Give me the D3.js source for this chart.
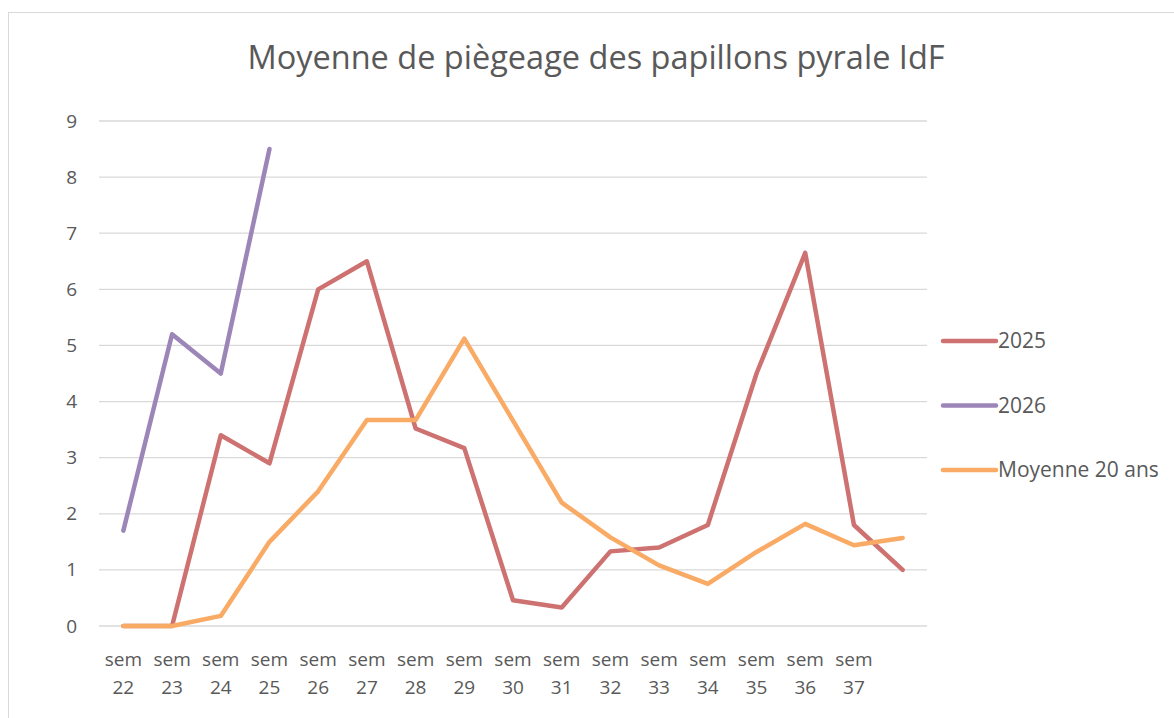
<!DOCTYPE html>
<html>
<head>
<meta charset="utf-8">
<script src="https://cdn.jsdelivr.net/npm/d3@7"></script>
<style>
  body { margin: 0; background: #fff; }
  text { font-family: "Open Sans", sans-serif; fill: #595959; }
</style>
</head>
<body>
<div id="chart"></div>
<script>
// catégories (la 17e n'a pas d'étiquette)
const semaines = ['sem 22','sem 23','sem 24','sem 25','sem 26','sem 27','sem 28','sem 29',
  'sem 30','sem 31','sem 32','sem 33','sem 34','sem 35','sem 36','sem 37',''];

const serie2025 = [0, 0, 3.4, 2.9, 6.0, 6.5, 3.52, 3.17, 0.46, 0.33, 1.33, 1.4, 1.8, 4.5, 6.65, 1.8, 1.0];
const serie2026 = [1.7, 5.2, 4.5, 8.5];
const moyenne20 = [0, 0, 0.18, 1.5, 2.4, 3.67, 3.67, 5.12, 3.66, 2.2, 1.58, 1.08, 0.75, 1.32, 1.82, 1.44, 1.57];

const yTicks = [0, 1, 2, 3, 4, 5, 6, 7, 8, 9];

const series = [
  { name: '2025', values: serie2025, color: '#CD7270' },
  { name: '2026', values: serie2026, color: '#9C86B8' },
  { name: 'Moyenne 20 ans', values: moyenne20, color: '#F9AA65' }
];

const W = 1174, H = 718;
const svg = d3.select('#chart').append('svg')
  .attr('width', W).attr('height', H);

// cadre du graphique
svg.append('rect')
  .attr('x', 8.5).attr('y', 12.5)
  .attr('width', W + 10).attr('height', H + 10)
  .attr('fill', 'none').attr('stroke', '#D9D9D9').attr('stroke-width', 1);

// titre
svg.append('text')
  .attr('x', 596).attr('y', 69)
  .attr('text-anchor', 'middle')
  .style('font-size', '32.5px')
  .text('Moyenne de piègeage des papillons pyrale IdF');

// échelles
const x = d3.scaleBand()
  .domain(d3.range(semaines.length))
  .range([99, 927]);

const y = d3.scaleLinear()
  .domain([0, 9])
  .range([626, 121]);

// grille
svg.append('g')
  .selectAll('line')
  .data(yTicks)
  .join('line')
  .attr('x1', 99).attr('x2', 927)
  .attr('y1', d => y(d)).attr('y2', d => y(d))
  .attr('stroke', '#D9D9D9').attr('stroke-width', 1.3);

// axe Y (étiquettes seulement)
const yAxis = svg.append('g')
  .attr('transform', 'translate(77,0)')
  .call(d3.axisLeft(y).tickValues(yTicks).tickSize(0).tickPadding(0));
yAxis.select('.domain').remove();
yAxis.selectAll('text')
  .style('font-size', '19px')
  .style('font-family', '"Open Sans", sans-serif')
  .attr('fill', '#595959');

// axe X : étiquettes sur deux lignes
const xAxis = svg.append('g')
  .attr('transform', 'translate(0,640)')
  .call(d3.axisBottom(x).tickSize(0).tickFormat(''));
xAxis.select('.domain').remove();
xAxis.selectAll('.tick').each(function(i) {
  const parts = semaines[i].split(' ');
  const t = d3.select(this).append('text')
    .attr('text-anchor', 'middle')
    .style('font-size', '19px')
    .attr('fill', '#595959');
  parts.forEach((p, k) => {
    if (!p) return;
    t.append('tspan').attr('x', 0).attr('y', 26 + k * 28).text(p);
  });
});

// courbes
const line = d3.line()
  .x((d, i) => x(i) + x.bandwidth() / 2)
  .y(d => y(d));

svg.append('g')
  .selectAll('path')
  .data(series)
  .join('path')
  .attr('d', d => line(d.values))
  .attr('fill', 'none')
  .attr('stroke', d => d.color)
  .attr('stroke-width', 4.5)
  .attr('stroke-linejoin', 'round')
  .attr('stroke-linecap', 'round');

// légende
const leg = svg.append('g')
  .selectAll('g')
  .data(series)
  .join('g')
  .attr('transform', (d, i) => `translate(943,${341 + i * 64.5})`);

leg.append('line')
  .attr('x1', 0).attr('x2', 53)
  .attr('stroke', d => d.color)
  .attr('stroke-width', 4.5)
  .attr('stroke-linecap', 'round');

leg.append('text')
  .attr('x', 55).attr('dy', '0.35em')
  .style('font-size', '21px')
  .text(d => d.name);
</script>
</body>
</html>
